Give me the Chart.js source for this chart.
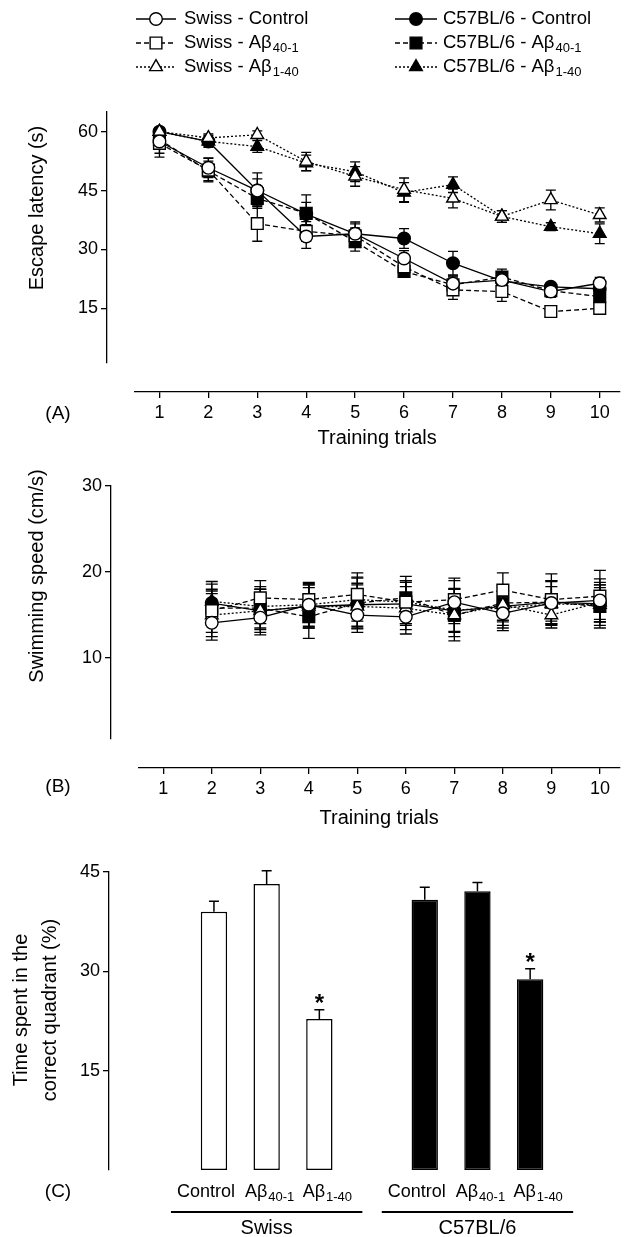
<!DOCTYPE html>
<html>
<head>
<meta charset="utf-8">
<title>Morris water maze</title>
<script src="https://cdn.jsdelivr.net/npm/chart.js@4.4.1/dist/chart.umd.min.js"></script>
<style>
  body { margin: 0; background: #fff; }
  .wrap { position: relative; width: 629px; height: 1237px; overflow: hidden; }
  canvas { position: absolute; left: 0; }
</style>
</head>
<body>
<div class="wrap">
  <canvas id="chartA" width="629" height="470" style="top:0"></canvas>
  <canvas id="chartB" width="629" height="380" style="top:470px"></canvas>
  <canvas id="chartC" width="629" height="387" style="top:850px"></canvas>
</div>
<script>
const FONT = '"Liberation Sans", Arial, Helvetica, sans-serif';

// x axis (training trials)
const trials = [1, 2, 3, 4, 5, 6, 7, 8, 9, 10];
const speedTrials = [2, 3, 4, 5, 6, 7, 8, 9, 10];
const latencyTicks = [15, 30, 45, 60];
const speedTicks = [10, 20, 30];
const quadrantTicks = [15, 30, 45];

// series names (legend), subscript part kept apart
const seriesNames = ['Swiss - Control', 'Swiss - A\u03b2', 'Swiss - A\u03b2',
                     'C57BL/6 - Control', 'C57BL/6 - A\u03b2', 'C57BL/6 - A\u03b2'];
const seriesSubs = ['', '40-1', '1-40', '', '40-1', '1-40'];

// (A) escape latency (s), mean and error
const swissControlLat = [57.5, 50.8, 45.0, 33.3, 34.0, 27.7, 21.3, 22.2, 19.3, 21.4];
const swissAb401Lat   = [57.0, 50.2, 36.6, 34.6, 33.5, 25.6, 19.7, 19.3, 14.2, 15.0];
const swissAb140Lat   = [60.0, 58.4, 59.2, 52.4, 48.6, 45.2, 43.0, 38.4, 42.6, 38.8];
const c57ControlLat   = [60.0, 57.5, 45.0, 39.0, 34.0, 32.8, 26.5, 22.0, 20.5, 20.0];
const c57Ab401Lat     = [58.0, 50.0, 43.0, 39.2, 32.0, 24.4, 21.0, 23.0, 19.5, 18.0];
const c57Ab140Lat     = [60.0, 57.5, 56.2, 52.0, 49.8, 44.5, 46.5, 38.4, 35.8, 34.0];

const swissControlLatErr = [3.0, 2.5, 4.5, 3.0, 3.0, 2.0, 2.0, 2.0, 1.5, 1.5];
const swissAb401LatErr   = [3.5, 3.0, 4.5, 2.5, 2.0, 2.0, 2.4, 2.5, 1.2, 1.2];
const swissAb140LatErr   = [1.0, 1.0, 1.0, 2.3, 2.5, 3.0, 2.4, 1.5, 2.5, 1.8];
const c57ControlLatErr   = [1.0, 1.5, 3.0, 3.0, 2.5, 2.5, 3.0, 1.5, 1.0, 1.5];
const c57Ab401LatErr     = [2.5, 2.5, 2.0, 4.7, 2.4, 1.5, 2.0, 2.0, 1.5, 1.5];
const c57Ab140LatErr     = [1.0, 1.0, 1.5, 2.0, 2.5, 2.5, 2.0, 1.5, 1.0, 2.5];

// (B) swimming speed (cm/s), trials 2-10
const swissControlSpeed = [14.1, 14.7, 16.2, 15.0, 14.8, 16.5, 15.2, 16.4, 16.7];
const swissAb401Speed   = [15.5, 17.0, 16.8, 17.4, 16.5, 16.8, 17.9, 16.8, 17.2];
const swissAb140Speed   = [15.0, 15.5, 16.0, 16.0, 15.8, 15.0, 16.2, 15.0, 16.5];
const c57ControlSpeed   = [16.4, 15.5, 16.0, 16.2, 16.3, 15.5, 16.0, 16.5, 16.3];
const c57Ab401Speed     = [15.8, 15.8, 14.8, 16.4, 17.0, 15.0, 16.4, 16.5, 16.0];
const c57Ab140Speed     = [16.6, 16.0, 16.2, 16.8, 16.5, 15.6, 15.8, 16.3, 16.2];

const swissControlSpeedErr = [2.0, 2.0, 2.5, 2.0, 2.0, 2.5, 2.0, 2.5, 2.5];
const swissAb401SpeedErr   = [2.5, 2.0, 2.0, 2.5, 2.5, 2.5, 2.0, 3.0, 3.0];
const swissAb140SpeedErr   = [2.5, 2.0, 2.5, 2.5, 2.5, 2.5, 2.0, 1.5, 2.0];
const c57ControlSpeedErr   = [2.5, 2.5, 2.5, 2.5, 2.5, 2.5, 2.5, 2.5, 2.5];
const c57Ab401SpeedErr     = [2.0, 2.5, 2.5, 3.0, 2.5, 3.0, 2.0, 2.5, 2.5];
const c57Ab140SpeedErr     = [2.0, 2.0, 2.0, 2.5, 2.5, 2.5, 2.0, 2.0, 2.0];

// (C) time in correct quadrant (%)
const quadrantGroups = ['Swiss', 'C57BL/6'];
const quadrantNames = ['Control', 'A\u03b2', 'A\u03b2', '', 'Control', 'A\u03b2', 'A\u03b2'];
const quadrantSubs = ['', '40-1', '1-40', '', '', '40-1', '1-40'];
const quadrantGroupOf = [0, 0, 0, null, 1, 1, 1];
const quadrantValues = [39.0, 43.2, 22.8, null, 40.8, 42.1, 28.8];
const quadrantErrors = [1.6, 2.0, 1.4, null, 1.9, 1.3, 1.6];
const quadrantStars = [false, false, true, false, false, false, true];

// styles
const seriesMarkers = ['circle', 'rect', 'triangle', 'circle', 'rect', 'triangle'];
const seriesFill = ['#fff', '#fff', '#fff', '#000', '#000', '#000'];
const seriesDash = [[], [5, 3], [2, 2], [], [5, 3], [2, 2]];
const markerSize = { circle: 6.3, rect: 8.3, triangle: 7.3 };
const groupFill = ['#fff', '#000'];
const labelShift = [-8, 3, 8, 0, -8, 3, 8]; // category labels sit a bit spread out

Chart.defaults.font.family = FONT;
Chart.defaults.color = '#000';

function drawLabel(ctx, x, y, main, sub, size, align, angle) {
    ctx.save();
    ctx.translate(x, y);
    if (angle) ctx.rotate(angle);
    ctx.fillStyle = '#000';
    ctx.textBaseline = 'middle';
    ctx.textAlign = 'left';
    ctx.font = size + 'px ' + FONT;
    const mainW = ctx.measureText(main).width;
    const subSize = Math.round(size * 0.72);
    let subW = 0;
    if (sub) {
        ctx.font = subSize + 'px ' + FONT;
        subW = ctx.measureText(sub).width + 1;
    }
    const total = mainW + subW;
    const start = align === 'left' ? 0 : (align === 'right' ? -total : -total / 2);
    ctx.font = size + 'px ' + FONT;
    ctx.fillText(main, start, 0);
    if (sub) {
        ctx.font = subSize + 'px ' + FONT;
        ctx.fillText(sub, start + mainW + 1, size * 0.32);
    }
    ctx.restore();
}

function drawMarker(ctx, style, x, y, r, fill) {
    ctx.save();
    ctx.setLineDash([]);
    ctx.lineWidth = 1.4;
    ctx.strokeStyle = '#000';
    ctx.fillStyle = fill;
    ctx.beginPath();
    if (style === 'circle') {
        ctx.arc(x, y, r, 0, Math.PI * 2);
    } else if (style === 'rect') {
        const s = r * Math.SQRT1_2;
        ctx.rect(x - s, y - s, 2 * s, 2 * s);
    } else {
        for (let k = 0; k < 3; k++) {
            const a = k * 2 * Math.PI / 3;
            const px = x + Math.sin(a) * r, py = y - Math.cos(a) * r;
            if (k === 0) ctx.moveTo(px, py); else ctx.lineTo(px, py);
        }
        ctx.closePath();
    }
    ctx.fill();
    ctx.stroke();
    ctx.restore();
}

// error bars, read through the chart's own y scale
function drawErrors(chart, opts) {
    const ctx = chart.ctx;
    const cap = opts.cap;
    ctx.save();
    ctx.strokeStyle = '#000';
    ctx.lineWidth = opts.width;
    ctx.setLineDash([]);
    chart.data.datasets.forEach((ds, i) => {
        if (!ds.errors) return;
        const meta = chart.getDatasetMeta(i);
        const yScale = chart.scales[meta.yAxisID];
        meta.data.forEach((el, j) => {
            const raw = ds.data[j];
            const v = (raw && typeof raw === 'object') ? raw.y : raw;
            const err = ds.errors[j];
            if (v == null || err == null) return;
            const x = el.x;
            const yTop = yScale.getPixelForValue(v + err);
            const yBot = opts.upOnly ? yScale.getPixelForValue(v) : yScale.getPixelForValue(v - err);
            ctx.beginPath();
            ctx.moveTo(x, yBot);
            ctx.lineTo(x, yTop);
            ctx.moveTo(x - cap, yTop);
            ctx.lineTo(x + cap, yTop);
            if (!opts.upOnly) {
                ctx.moveTo(x - cap, yBot);
                ctx.lineTo(x + cap, yBot);
            }
            ctx.stroke();
        });
    });
    ctx.restore();
}

const errorBars = {
    id: 'errorBars',
    beforeDatasetsDraw(chart, args, opts) { if (!opts.after) drawErrors(chart, opts); },
    afterDatasetsDraw(chart, args, opts) { if (opts.after) drawErrors(chart, opts); }
};

const axisGrid = { drawOnChartArea: false, drawTicks: true, tickLength: 6, color: '#000', lineWidth: 1.3 };
const axisBorder = { display: true, color: '#000', width: 1.3 };

function axisY(ticks, min, max, width) {
    return {
        type: 'linear', position: 'left', weight: 1, min: min, max: max,
        afterBuildTicks: s => { s.ticks = ticks.map(v => ({ value: v })); },
        afterFit: s => { s.width = width; },
        grid: axisGrid, border: axisBorder,
        ticks: { font: { size: 18 }, color: '#000', padding: 3 }
    };
}

function axisTrials(height) {
    return {
        type: 'linear', position: 'bottom', weight: 1, min: 0.5, max: 10.4,
        afterBuildTicks: s => { s.ticks = trials.map(v => ({ value: v })); },
        afterFit: s => { s.height = height; },
        grid: axisGrid, border: axisBorder,
        ticks: { font: { size: 18 }, color: '#000', padding: 4, maxRotation: 0, autoSkip: false }
    };
}

// empty scale that only pushes the real axis away from the plot
function spacer(position, size) {
    return {
        type: 'linear', position: position, weight: 0, display: true,
        grid: { display: false }, border: { display: false }, ticks: { display: false },
        afterFit: s => { if (s.isHorizontal()) s.height = size; else s.width = size; }
    };
}

function lineDatasets(xs, valueSets, errorSets) {
    return valueSets.map((vals, i) => ({
        label: seriesNames[i] + seriesSubs[i],
        data: vals.map((v, j) => ({ x: xs[j], y: v })),
        errors: errorSets[i],
        borderColor: '#000',
        borderWidth: 1.3,
        borderDash: seriesDash[i],
        pointStyle: seriesMarkers[i],
        pointRadius: markerSize[seriesMarkers[i]],
        pointBackgroundColor: seriesFill[i],
        pointBorderColor: '#000',
        pointBorderWidth: 1.4,
        tension: 0,
        xAxisID: 'x',
        yAxisID: 'y'
    }));
}

function textPlugin(id, items) {
    return {
        id: id,
        afterDraw(chart) {
            const ctx = chart.ctx;
            const area = chart.chartArea;
            items.forEach(it => {
                const x = it.x === 'center' ? (area.left + area.right) / 2 : it.x;
                drawLabel(ctx, x, it.y, it.t, it.sub || '', it.size, it.align || 'center', it.rot || 0);
            });
        }
    };
}

// legend at the top of panel A
const legendRowY = [19, 43, 67];
const legendLine = [[136, 176], [395, 437]];
const legendTextX = [184, 443];

const legendPlugin = {
    id: 'figLegend',
    afterDraw(chart) {
        const ctx = chart.ctx;
        chart.data.datasets.forEach((ds, i) => {
            const col = i < 3 ? 0 : 1;
            const y = legendRowY[i % 3];
            const [x0, x1] = legendLine[col];
            ctx.save();
            ctx.strokeStyle = '#000';
            ctx.lineWidth = 1.3;
            ctx.setLineDash(ds.borderDash);
            ctx.beginPath();
            ctx.moveTo(x0, y);
            ctx.lineTo(x1, y);
            ctx.stroke();
            ctx.restore();
            drawMarker(ctx, ds.pointStyle, (x0 + x1) / 2, y, ds.pointRadius, ds.pointBackgroundColor);
            drawLabel(ctx, legendTextX[col], y, seriesNames[i], seriesSubs[i], 18.5, 'left', 0);
        });
    }
};

const baseOptions = {
    responsive: false,
    maintainAspectRatio: false,
    devicePixelRatio: 1,
    animation: false,
    events: [],
    plugins: { legend: { display: false }, tooltip: { enabled: false } }
};

// (A) escape latency
new Chart(document.getElementById('chartA'), {
    type: 'line',
    data: {
        datasets: lineDatasets(trials,
            [swissControlLat, swissAb401Lat, swissAb140Lat, c57ControlLat, c57Ab401Lat, c57Ab140Lat],
            [swissControlLatErr, swissAb401LatErr, swissAb140LatErr, c57ControlLatErr, c57Ab401LatErr, c57Ab140LatErr])
    },
    options: Object.assign({}, baseOptions, {
        layout: { padding: { top: 112, right: 4, left: 0, bottom: 0 } },
        plugins: Object.assign({}, baseOptions.plugins, { errorBars: { cap: 5, width: 1.3, upOnly: false, after: false } }),
        scales: {
            x: axisTrials(78),
            y: axisY(latencyTicks, 1.1, 65, 107),
            xSpace: spacer('bottom', 29),
            ySpace: spacer('left', 28)
        }
    }),
    plugins: [errorBars, legendPlugin, textPlugin('textA', [
        { t: 'Escape latency (s)', x: 37, y: 208, size: 20, rot: -Math.PI / 2 },
        { t: 'Training trials', x: 'center', y: 438, size: 20 },
        { t: '(A)', x: 58, y: 414, size: 19 }
    ])]
});

// (B) swimming speed
new Chart(document.getElementById('chartB'), {
    type: 'line',
    data: {
        datasets: lineDatasets(speedTrials,
            [swissControlSpeed, swissAb401Speed, swissAb140Speed, c57ControlSpeed, c57Ab401Speed, c57Ab140Speed],
            [swissControlSpeedErr, swissAb401SpeedErr, swissAb140SpeedErr, c57ControlSpeedErr, c57Ab401SpeedErr, c57Ab140SpeedErr])
    },
    options: Object.assign({}, baseOptions, {
        layout: { padding: { top: 16, right: 1, left: 0, bottom: 0 } },
        plugins: Object.assign({}, baseOptions.plugins, { errorBars: { cap: 6, width: 1.3, upOnly: false, after: false } }),
        scales: {
            x: axisTrials(82),
            y: axisY(speedTicks, 0.6, 30, 111),
            xSpace: spacer('bottom', 29),
            ySpace: spacer('left', 28)
        }
    }),
    plugins: [errorBars, textPlugin('textB', [
        { t: 'Swimming speed (cm/s)', x: 37, y: 106, size: 20, rot: -Math.PI / 2 },
        { t: 'Training trials', x: 'center', y: 348, size: 20 },
        { t: '(B)', x: 58, y: 317, size: 19 }
    ])]
});

// (C) category labels, group rules and asterisks under/over the bars
const quadrantPlugin = {
    id: 'quadrantText',
    afterDraw(chart) {
        const ctx = chart.ctx;
        const xs = chart.scales.x;
        const ys = chart.scales.y;
        quadrantNames.forEach((name, i) => {
            if (!name) return;
            drawLabel(ctx, xs.getPixelForValue(i) + labelShift[i], 342, name, quadrantSubs[i], 18, 'center', 0);
        });
        quadrantGroups.forEach((g, gi) => {
            const idx = quadrantGroupOf.map((v, i) => v === gi ? i : -1).filter(i => i >= 0);
            const x0 = xs.getPixelForValue(idx[0]) - 43;
            const x1 = xs.getPixelForValue(idx[idx.length - 1]) + 43;
            ctx.save();
            ctx.strokeStyle = '#000';
            ctx.lineWidth = 2;
            ctx.beginPath();
            ctx.moveTo(x0, 362);
            ctx.lineTo(x1, 362);
            ctx.stroke();
            ctx.restore();
            drawLabel(ctx, (x0 + x1) / 2, 378, g, '', 20, 'center', 0);
        });
        ctx.save();
        ctx.fillStyle = '#000';
        ctx.font = 'bold 24px ' + FONT;
        ctx.textAlign = 'center';
        ctx.textBaseline = 'alphabetic';
        quadrantStars.forEach((s, i) => {
            if (!s) return;
            const yTop = ys.getPixelForValue(quadrantValues[i] + quadrantErrors[i]);
            ctx.fillText('*', xs.getPixelForValue(i), yTop + 1);
        });
        ctx.restore();
    }
};

new Chart(document.getElementById('chartC'), {
    type: 'bar',
    data: {
        labels: quadrantNames.map((n, i) => n + quadrantSubs[i]),
        datasets: [{
            data: quadrantValues,
            errors: quadrantErrors,
            backgroundColor: quadrantGroupOf.map(g => g === null ? '#fff' : groupFill[g]),
            borderColor: '#000',
            borderWidth: 1.5,
            borderSkipped: false,
            barPercentage: 0.5,
            categoryPercentage: 1,
            xAxisID: 'x',
            yAxisID: 'y'
        }]
    },
    options: Object.assign({}, baseOptions, {
        layout: { padding: { top: 22, right: 72.5, left: 0, bottom: 0 } },
        plugins: Object.assign({}, baseOptions.plugins, { errorBars: { cap: 5, width: 1.5, upOnly: true, after: true } }),
        scales: {
            x: {
                type: 'category', position: 'bottom', offset: true, display: true,
                grid: { display: false }, border: { display: false }, ticks: { display: false },
                afterFit: s => { s.height = 67; }
            },
            y: axisY(quadrantTicks, 0, 45, 109),
            ySpace: spacer('left', 78.6)
        }
    }),
    plugins: [errorBars, quadrantPlugin, textPlugin('textC', [
        { t: 'Time spent in the', x: 21, y: 160, size: 20, rot: -Math.PI / 2 },
        { t: 'correct quadrant (%)', x: 50, y: 160, size: 20, rot: -Math.PI / 2 },
        { t: '(C)', x: 58, y: 342, size: 19 }
    ])]
});
</script>
</body>
</html>
